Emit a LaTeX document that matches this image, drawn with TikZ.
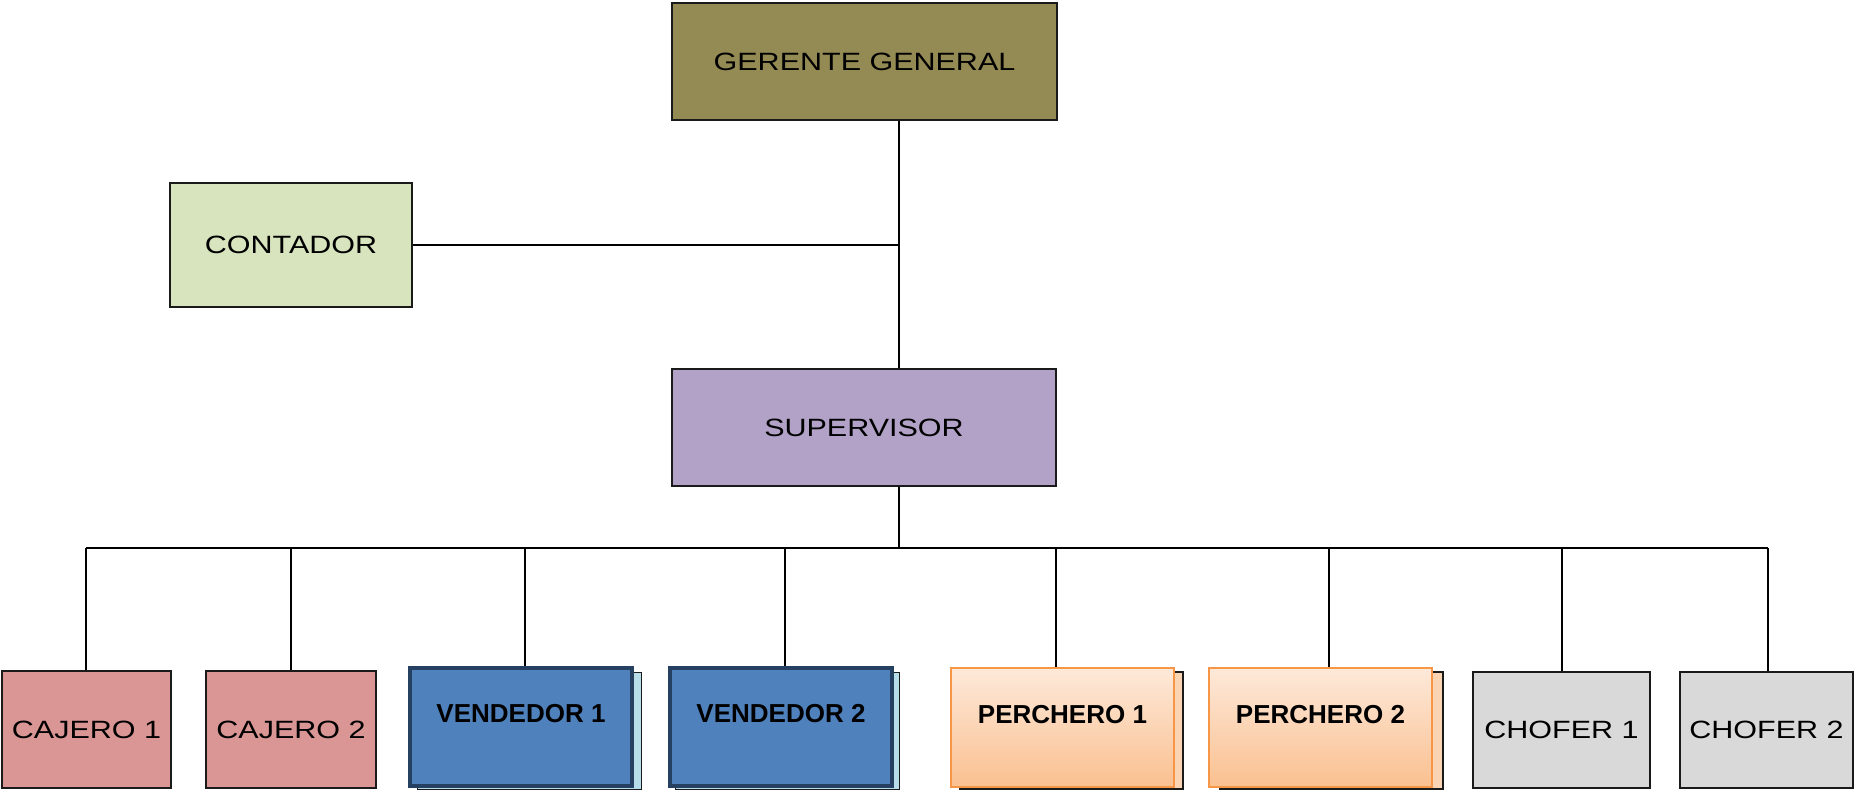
\documentclass[tikz,border=0pt]{standalone}
\usepackage{fontspec}
\newfontfamily\plainfont{Liberation Sans}[FakeStretch=1.22]
\newfontfamily\strongfont{Liberation Sans}
\definecolor{olivebox}{HTML}{948A54}
\definecolor{greenbox}{HTML}{D7E4BD}
\definecolor{violetbox}{HTML}{B2A2C7}
\definecolor{rosebox}{HTML}{D99694}
\definecolor{bluebox}{HTML}{4F81BD}
\definecolor{blueedge}{HTML}{254061}
\definecolor{aquashadow}{HTML}{B7DEE8}
\definecolor{peachtop}{HTML}{FDE9D9}
\definecolor{peachbottom}{HTML}{FAC090}
\definecolor{orangeedge}{HTML}{F79646}
\definecolor{peachshadow}{HTML}{FBD4B4}
\definecolor{greybox}{HTML}{D9D9D9}
\definecolor{edge}{HTML}{1A1A1A}
\tikzset{
  orgbox/.style={draw=edge, line width=1.4pt, inner sep=0pt,
    font=\plainfont\fontsize{25}{30}\selectfont, text=black},
  strongbox/.style={inner sep=0pt, text height=18pt, text depth=26pt,
    font=\strongfont\bfseries\fontsize{26}{30}\selectfont, text=black},
  sellerbox/.style={strongbox, draw=blueedge, line width=4pt, fill=bluebox,
    minimum width=222.5pt, minimum height=118.5pt},
  sellershadow/.style={draw=edge, line width=1pt, fill=aquashadow,
    minimum width=224pt, minimum height=117pt, inner sep=0pt},
  rackbox/.style={strongbox, draw=orangeedge, line width=2pt,
    top color=peachtop, bottom color=peachbottom,
    minimum width=223pt, minimum height=119pt},
  rackshadow/.style={draw=edge, line width=1.2pt, fill=peachshadow,
    minimum width=223pt, minimum height=117pt, inner sep=0pt},
  link/.style={draw=black, line width=1.5pt}
}
\begin{document}
\begin{tikzpicture}[x=1pt, y=-1pt]
\useasboundingbox (0,0) rectangle (1854,790);

% upper levels
\node[orgbox, fill=olivebox, minimum width=385pt, minimum height=117pt] (ger) at (864.5,61.5) {GERENTE GENERAL};
\node[orgbox, fill=greenbox, minimum width=242pt, minimum height=124pt] (con) at (291,245) {CONTADOR};
\node[orgbox, fill=violetbox, minimum width=384pt, minimum height=117pt] (sup) at (864,427.5) {SUPERVISOR};

% bottom level
\node[orgbox, fill=rosebox, minimum width=169pt, minimum height=117pt] (caj1) at (86.5,729.5) {CAJERO 1};
\node[orgbox, fill=rosebox, minimum width=170pt, minimum height=117pt] (caj2) at (291,729.5) {CAJERO 2};

\node[sellershadow] (ven1s) at (529,730.5) {};
\node[sellerbox] (ven1) at (521,726.75) {VENDEDOR 1};
\node[sellershadow] (ven2s) at (787.5,730.5) {};
\node[sellerbox] (ven2) at (781,726.75) {VENDEDOR 2};

\node[rackshadow] (per1s) at (1071.5,730.5) {};
\node[rackbox] (per1) at (1062.5,727.5) {PERCHERO 1};
\node[rackshadow] (per2s) at (1331.5,730.5) {};
\node[rackbox] (per2) at (1320.5,727.5) {PERCHERO 2};

\node[orgbox, fill=greybox, minimum width=177pt, minimum height=116pt] (cho1) at (1561.5,730) {CHOFER 1};
\node[orgbox, fill=greybox, minimum width=173pt, minimum height=116pt] (cho2) at (1766.5,730) {CHOFER 2};

% connectors
\coordinate (spine) at (899,548);
\coordinate (busL) at (86,548);
\coordinate (busR) at (1768,548);
\draw[link] (ger.south -| spine) -- (sup.north -| spine);
\draw[link] (con.east) -- (con.east -| spine);
\draw[link] (sup.south -| spine) -- (spine);
\draw[link] (busL) -- (busR);

\coordinate (d1) at (86,548);
\coordinate (d2) at (291,548);
\coordinate (d3) at (525,548);
\coordinate (d4) at (785,548);
\coordinate (d5) at (1056,548);
\coordinate (d6) at (1329,548);
\coordinate (d7) at (1562,548);
\coordinate (d8) at (1768,548);
\draw[link] (d1) -- (caj1.north -| d1);
\draw[link] (d2) -- (caj2.north -| d2);
\draw[link] (d3) -- (ven1.north -| d3);
\draw[link] (d4) -- (ven2.north -| d4);
\draw[link] (d5) -- (per1.north -| d5);
\draw[link] (d6) -- (per2.north -| d6);
\draw[link] (d7) -- (cho1.north -| d7);
\draw[link] (d8) -- (cho2.north -| d8);
\end{tikzpicture}
\end{document}
